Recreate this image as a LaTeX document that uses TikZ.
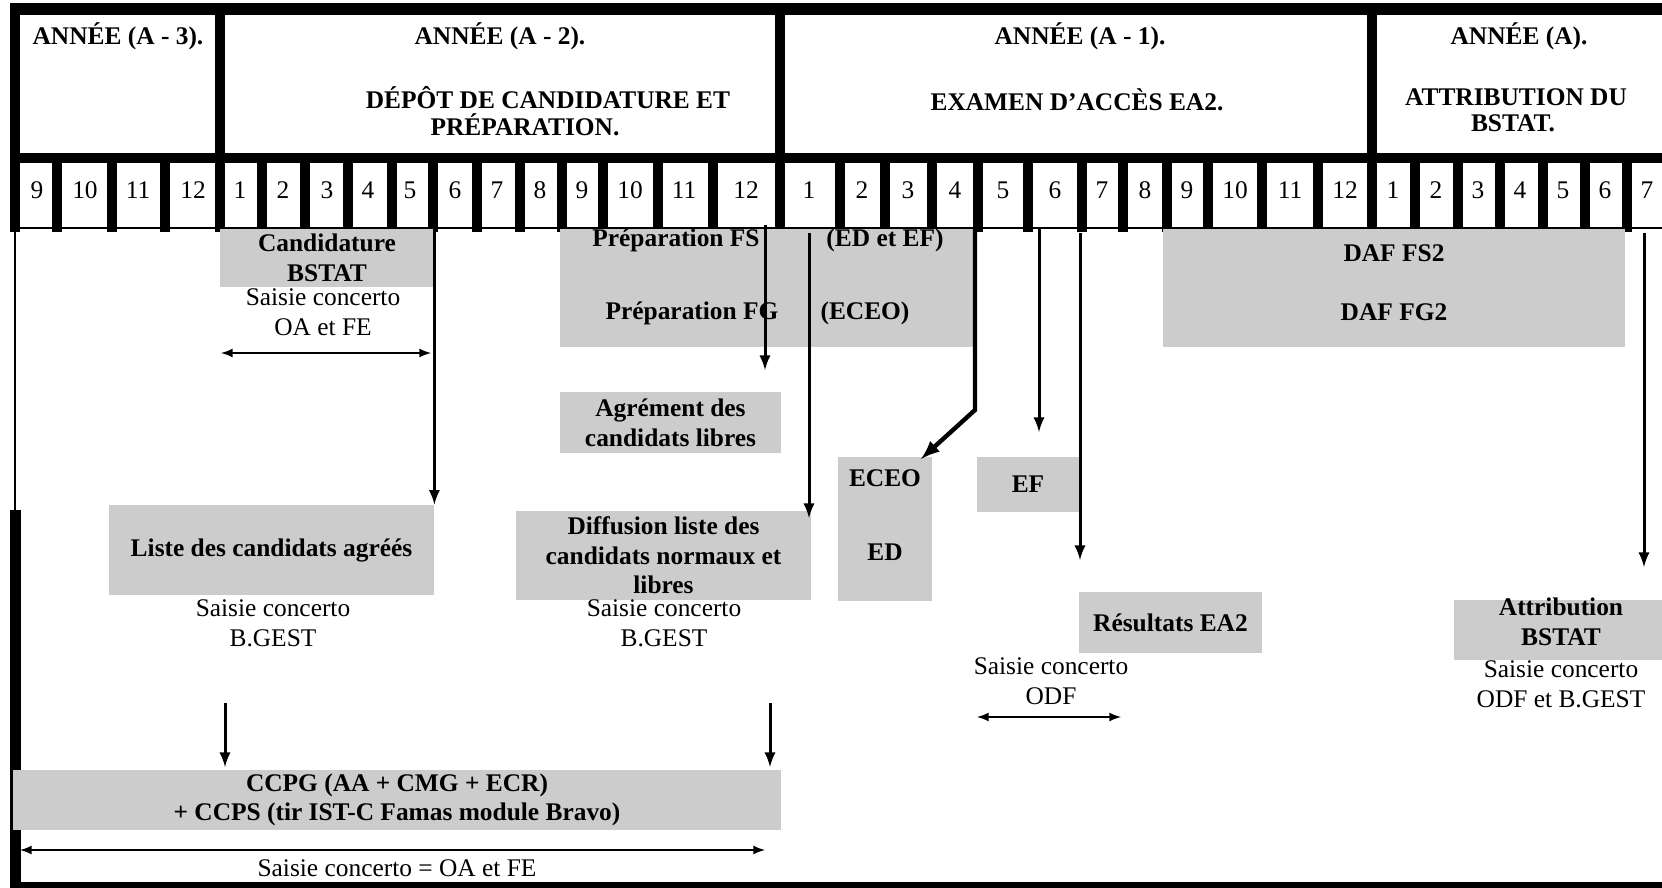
\documentclass[tikz,border=0pt]{standalone}
\usepackage{fontspec}
\setmainfont{Liberation Serif}
\definecolor{BoxGray}{HTML}{CCCCCC}
\newcommand{\tblfont}{\fontsize{12.7}{14.8}\selectfont}

\tikzset{
	box/.style={fill=BoxGray, inner sep=0pt, align=center, font=\tblfont\bfseries},
	lbl/.style={inner sep=0pt, align=center, font=\tblfont\bfseries},
	note/.style={inner sep=0pt, align=center, font=\tblfont},
	month/.style={inner sep=0pt, font=\tblfont},
	sep/.style={line width=5pt},
	arr/.style={-latex, line width=1.5pt},
	darr/.style={latex-latex, line width=1pt},
}

\begin{document}
\begin{tikzpicture}[x=0.5pt, y=-0.5pt]
		\useasboundingbox (0,0) rectangle (1662,888);
		
%		frame of the table
		\fill (10,3) rectangle (1662,15);
		\fill (10,153) rectangle (1662,163);
		\fill (10,3) rectangle (20,232);
		\draw[line width=5pt] (220,3) -- (220,163) (780,3) -- (780,163) (1372,3) -- (1372,163);
		\draw[line width=0.8pt] (15,228) -- (1662,228);
		\draw[line width=0.8pt] (15,228) -- (15,510);
		\fill (10,510) rectangle (21,888);
		\fill (10,882) rectangle (1662,888);
		
%		years
		\node[lbl] (yA3) at (118,36) {ANNÉE (A - 3).};
		\node[lbl] (yA2) at (500,36) {ANNÉE (A - 2).};
		\node[lbl] (tA2a) at (548,98) {DÉPÔT DE CANDIDATURE ET};
		\node[lbl] (tA2b) at (525,125) {PRÉPARATION.};
		\node[lbl] (yA1) at (1080,36) {ANNÉE (A - 1).};
		\node[lbl] (tA1) at (1077,100) {EXAMEN D’ACCÈS EA2.};
		\node[lbl] (yA) at (1519,36) {ANNÉE (A).};
		\node[lbl] (tAa) at (1516,97) {ATTRIBUTION DU};
		\node[lbl] (tAb) at (1513,123) {BSTAT.};
		
%		months
		\draw[sep] (57,153) -- (57,232) (112,153) -- (112,232) (165,153) -- (165,232) (220,153) -- (220,232);
		\draw[sep] (262,153) -- (262,232) (305,153) -- (305,232) (348,153) -- (348,232) (392,153) -- (392,232);
		\draw[sep] (433,153) -- (433,232) (477,153) -- (477,232) (520,153) -- (520,232) (562,153) -- (562,232);
		\draw[sep] (603,153) -- (603,232) (658,153) -- (658,232) (713,153) -- (713,232) (780,153) -- (780,232);
		\draw[sep] (840,153) -- (840,232) (885,153) -- (885,232) (932,153) -- (932,232) (978,153) -- (978,232);
		\draw[sep] (1028,153) -- (1028,232) (1082,153) -- (1082,232) (1123,153) -- (1123,232) (1167,153) -- (1167,232);
		\draw[sep] (1208,153) -- (1208,232) (1262,153) -- (1262,232) (1318,153) -- (1318,232) (1372,153) -- (1372,232);
		\draw[sep] (1415,153) -- (1415,232) (1458,153) -- (1458,232) (1500,153) -- (1500,232) (1543,153) -- (1543,232);
		\draw[sep] (1585,153) -- (1585,232) (1627,153) -- (1627,232);
		
		\node[month] (m01) at (37,190) {9};
		\node[month] (m02) at (85,190) {10};
		\node[month] (m03) at (138,190) {11};
		\node[month] (m04) at (193,190) {12};
		\node[month] (m05) at (240,190) {1};
		\node[month] (m06) at (283,190) {2};
		\node[month] (m07) at (327,190) {3};
		\node[month] (m08) at (368,190) {4};
		\node[month] (m09) at (410,190) {5};
		\node[month] (m10) at (455,190) {6};
		\node[month] (m11) at (497,190) {7};
		\node[month] (m12) at (540,190) {8};
		\node[month] (m13) at (582,190) {9};
		\node[month] (m14) at (630,190) {10};
		\node[month] (m15) at (684,190) {11};
		\node[month] (m16) at (746,190) {12};
		\node[month] (m17) at (809,190) {1};
		\node[month] (m18) at (862,190) {2};
		\node[month] (m19) at (908,190) {3};
		\node[month] (m20) at (955,190) {4};
		\node[month] (m21) at (1003,190) {5};
		\node[month] (m22) at (1055,190) {6};
		\node[month] (m23) at (1102,190) {7};
		\node[month] (m24) at (1145,190) {8};
		\node[month] (m25) at (1187,190) {9};
		\node[month] (m26) at (1235,190) {10};
		\node[month] (m27) at (1290,190) {11};
		\node[month] (m28) at (1345,190) {12};
		\node[month] (m29) at (1393,190) {1};
		\node[month] (m30) at (1436,190) {2};
		\node[month] (m31) at (1478,190) {3};
		\node[month] (m32) at (1520,190) {4};
		\node[month] (m33) at (1563,190) {5};
		\node[month] (m34) at (1605,190) {6};
		\node[month] (m35) at (1647,190) {7};
		
%		grey boxes
		\node[box, minimum width=107pt, minimum height=29pt] (cand) at (327,258) {Candidature\\BSTAT};
		\node[box, minimum width=206.5pt, minimum height=59pt] (prep) at (766.5,288) {};
		\node[box, minimum width=231pt, minimum height=59pt] (daf) at (1394,288) {};
		\node[box, minimum width=110.5pt, minimum height=30.5pt] (agr) at (670.5,422.5) {Agrément des\\candidats libres};
		\node[box, minimum width=162.5pt, minimum height=45pt] (liste) at (271.5,550) {Liste des candidats agréés};
		\node[box, minimum width=147.5pt, minimum height=44.5pt] (diff) at (663.5,555.5) {Diffusion liste des\\candidats normaux et\\libres};
		\node[box, minimum width=47pt, minimum height=72pt] (eceo) at (885,529) {};
		\node[box, minimum width=51pt, minimum height=27.5pt] (ef) at (1028,484.5) {EF};
		\node[box, minimum width=91.5pt, minimum height=30.5pt] (res) at (1170.5,622.5) {Résultats EA2};
		\node[box, minimum width=104pt, minimum height=30pt] (attr) at (1558,630) {};
		\node[box, minimum width=384pt, minimum height=30pt] (ccpg) at (397,800) {CCPG (AA + CMG + ECR)\\+ CCPS (tir IST-C Famas module Bravo)};
		
		\node[lbl] (prepFS) at (676,240) {Préparation FS};
		\node[lbl] (prepED) at (885,240) {(ED et EF)};
		\node[lbl] (prepFG) at (692,313) {Préparation FG};
		\node[lbl] (prepEC) at (865,313) {(ECEO)};
		\node[lbl] (dafFS) at (1394,253) {DAF FS2};
		\node[lbl] (dafFG) at (1394,312) {DAF FG2};
		\node[lbl] (eceoT) at (885,478) {ECEO};
		\node[lbl] (edT) at (885,552) {ED};
		\node[lbl] (attrT) at (1561,622) {Attribution\\BSTAT};
		
%		saisie concerto
		\node[note] (sOA) at (323,312) {Saisie concerto\\OA et FE};
		\node[note] (sBG1) at (273,623) {Saisie concerto\\B.GEST};
		\node[note] (sBG2) at (664,623) {Saisie concerto\\B.GEST};
		\node[note] (sODF) at (1051,681) {Saisie concerto\\ODF};
		\node[note] (sODB) at (1561,684) {Saisie concerto\\ODF et B.GEST};
		\node[note] (sFin) at (397,868) {Saisie concerto = OA et FE};
		
%		arrows
		\coordinate (fsA) at (765,225);
		\coordinate (fsB) at (765,370);
		\coordinate (diA) at (809,233);
		\coordinate (diB) at (809,518);
		\coordinate (ecA) at (975,228);
		\coordinate (ecB) at (975,410);
		\coordinate (ecC) at (921,459);
		\coordinate (efA) at (1039,228);
		\coordinate (efB) at (1039,432);
		\coordinate (reA) at (1080,233);
		\coordinate (reB) at (1080,560);
		\coordinate (atA) at (1644,233);
		\coordinate (atB) at (1644,567);
		\coordinate (c1A) at (225,703);
		\coordinate (c1B) at (225,767);
		\coordinate (c2A) at (770,703);
		\coordinate (c2B) at (770,767);
		\coordinate (oaL) at (221,353);
		\coordinate (oaR) at (431,353);
		\coordinate (odL) at (977,717);
		\coordinate (odR) at (1121,717);
		\coordinate (fiL) at (20,850);
		\coordinate (fiR) at (765,850);
		
		\draw[arr] (cand.north east) -- (liste.north east);
		\draw[arr] (fsA) -- (fsB);
		\draw[arr] (diA) -- (diB);
		\draw[-latex, line width=2.2pt] (ecA) -- (ecB) -- (ecC);
		\draw[arr] (efA) -- (efB);
		\draw[arr] (reA) -- (reB);
		\draw[arr] (atA) -- (atB);
		\draw[arr] (c1A) -- (c1B);
		\draw[arr] (c2A) -- (c2B);
		
		\draw[darr] (oaL) -- (oaR);
		\draw[darr] (odL) -- (odR);
		\draw[darr] (fiL) -- (fiR);
	\end{tikzpicture}
\end{document}
